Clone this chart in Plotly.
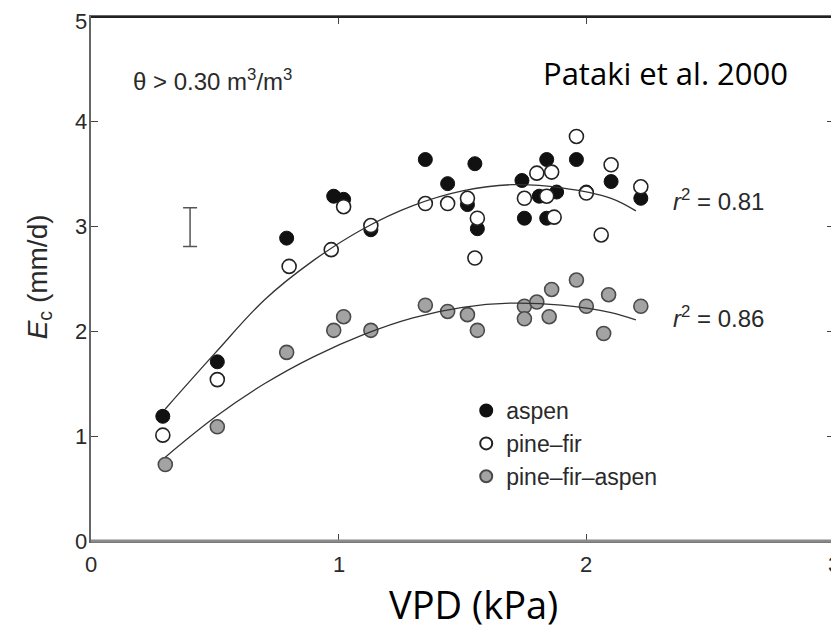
import plotly.graph_objects as go

# ---- data ----
aspen_x = [0.29, 0.51, 0.79, 0.98, 1.02, 1.13, 1.35, 1.44, 1.55, 1.52, 1.56, 1.74, 1.75,
           1.81, 1.84, 1.84, 1.88, 1.96, 2.00, 2.10, 2.22]
aspen_y = [1.19, 1.71, 2.89, 3.29, 3.26, 2.97, 3.64, 3.41, 3.60, 3.21, 2.98, 3.44, 3.08,
           3.29, 3.64, 3.08, 3.33, 3.64, 3.33, 3.43, 3.27]

pinefir_x = [0.29, 0.51, 0.80, 0.97, 1.02, 1.13, 1.35, 1.44, 1.52, 1.56, 1.55, 1.75, 1.80,
             1.86, 1.84, 1.87, 1.96, 2.00, 2.10, 2.06, 2.22]
pinefir_y = [1.01, 1.54, 2.62, 2.78, 3.19, 3.01, 3.22, 3.22, 3.27, 3.08, 2.70, 3.27, 3.51,
             3.52, 3.29, 3.09, 3.86, 3.32, 3.59, 2.92, 3.38]

pfa_x = [0.30, 0.51, 0.79, 0.98, 1.02, 1.13, 1.35, 1.44, 1.52, 1.56, 1.75, 1.75, 1.80,
         1.86, 1.85, 1.96, 2.00, 2.09, 2.07, 2.22]
pfa_y = [0.73, 1.09, 1.80, 2.01, 2.14, 2.01, 2.25, 2.19, 2.16, 2.01, 2.24, 2.12, 2.28,
         2.40, 2.14, 2.49, 2.24, 2.35, 1.98, 2.24]

fit_x = [0.3, 0.5, 0.7, 0.9, 1.1, 1.3, 1.5, 1.7, 1.9, 2.1, 2.2]
fit_upper_y = [1.26, 1.79, 2.30, 2.68, 2.98, 3.20, 3.34, 3.40, 3.37, 3.27, 3.15]
fit_lower_y = [0.80, 1.18, 1.50, 1.76, 1.97, 2.13, 2.23, 2.27, 2.25, 2.18, 2.11]

errbar_x = [0.40]
errbar_y = [2.995]
errbar_half = [0.185]

x_ticks = [0, 1, 2, 3]
y_ticks = [0, 1, 2, 3, 4, 5]

r2_labels = ["0.81", "0.86"]
r2_y = [3.25, 2.14]

TXT = "#2a2a2a"
SANS = "Arial"

fig = go.Figure()

fig.add_trace(go.Scatter(
    x=aspen_x, y=aspen_y, mode="markers", name="aspen",
    marker=dict(symbol="circle", size=14, color="#111111",
                line=dict(color="#111111", width=1)),
))
fig.add_trace(go.Scatter(
    x=pinefir_x, y=pinefir_y, mode="markers", name="pine\u2013fir",
    marker=dict(symbol="circle", size=14, color="white",
                line=dict(color="#222222", width=1.6)),
))
fig.add_trace(go.Scatter(
    x=pfa_x, y=pfa_y, mode="markers", name="pine\u2013fir\u2013aspen",
    marker=dict(symbol="circle", size=14, color="#a3a3a3",
                line=dict(color="#4a4a4a", width=1.6)),
))
fig.add_trace(go.Scatter(
    x=fit_x, y=fit_upper_y, mode="lines", line=dict(color="#333333", width=1.3, shape="spline"),
    showlegend=False, hoverinfo="skip",
))
fig.add_trace(go.Scatter(
    x=fit_x, y=fit_lower_y, mode="lines", line=dict(color="#333333", width=1.3, shape="spline"),
    showlegend=False, hoverinfo="skip",
))
fig.add_trace(go.Scatter(
    x=errbar_x, y=errbar_y, mode="markers", showlegend=False, hoverinfo="skip",
    marker=dict(size=1, color="rgba(0,0,0,0)"),
    error_y=dict(type="data", array=errbar_half, visible=True, color="#555555",
                 thickness=1.5, width=7),
))

TICKFONT = dict(family=SANS, size=22, color=TXT)
axis_common = dict(
    showgrid=False, zeroline=False, ticks="inside", ticklen=7, tickwidth=1.3,
    tickcolor="#444444", showline=True, linecolor="#666666", linewidth=1.8,
    mirror="ticks", showticklabels=False,
)

fig.update_layout(
    xaxis=dict(range=[0, 3], tickmode="array", tickvals=x_ticks, **axis_common),
    yaxis=dict(range=[0, 5], tickmode="array", tickvals=y_ticks, **axis_common),
)

# frame edges with differing weights like the scan
fig.add_shape(type="line", xref="paper", yref="paper", x0=1, x1=1, y0=0, y1=1,
              line=dict(color="#111111", width=3))
fig.add_shape(type="line", xref="paper", yref="paper", x0=0, x1=1, y0=1, y1=1,
              line=dict(color="#222222", width=2))
fig.add_shape(type="line", xref="paper", yref="paper", x0=0, x1=1, y0=0, y1=0,
              line=dict(color="#8a8a8a", width=3))

annotations = []
# tick labels (drawn as text so their size is explicit)
for v in x_ticks:
    annotations.append(dict(x=v, y=0, xref="x", yref="paper", xanchor="center",
                            yanchor="middle", yshift=-23, text=str(v), showarrow=False,
                            font=TICKFONT))
for v in y_ticks:
    annotations.append(dict(x=0, y=v, xref="paper", yref="y", xanchor="right",
                            yanchor="middle", xshift=-3,
                            yshift=-4 if v == y_ticks[-1] else 0,
                            text=str(v), showarrow=False, borderpad=0,
                            font=TICKFONT))

annotations += [
    dict(x=0.16, y=4.40, xref="x", yref="y", xanchor="left", yanchor="middle",
         text="\u03b8 > 0.30 m<sup>3</sup>/m<sup>3</sup>", showarrow=False,
         font=dict(family=SANS, size=24, color=TXT)),
    dict(x=2.32, y=4.47, xref="x", yref="y", xanchor="center", yanchor="middle",
         text="Pataki et al. 2000", showarrow=False,
         font=dict(family="Open Sans", size=31, color="black")),
    dict(x=0.515, y=-0.121, xref="paper", yref="paper", xanchor="center", yanchor="middle",
         text="VPD (kPa)", showarrow=False,
         font=dict(family="Open Sans", size=38, color="black")),
    dict(x=-0.07, y=0.505, xref="paper", yref="paper", xanchor="center", yanchor="middle",
         text="<i>E</i><sub>c</sub> (mm/d)", textangle=-90, showarrow=False,
         font=dict(family=SANS, size=28, color=TXT)),
]
for lab, yy in zip(r2_labels, r2_y):
    annotations.append(dict(
        x=2.34, y=yy, xref="x", yref="y", xanchor="left", yanchor="middle",
        text="<i>r</i><sup>2</sup> = " + lab, showarrow=False,
        font=dict(family=SANS, size=24, color=TXT)))

# the page body adds an 8px offset, so the figure is sized/placed to compensate
fig.update_layout(
    width=831, height=624,
    margin=dict(l=83, r=5, t=9, b=91, autoexpand=False),
    paper_bgcolor="white", plot_bgcolor="white",
    annotations=annotations,
    legend=dict(x=0.505, y=0.29, xanchor="left", yanchor="top",
                bgcolor="rgba(0,0,0,0)", borderwidth=0,
                font=dict(family=SANS, size=23, color=TXT),
                itemsizing="constant", tracegroupgap=0),
    showlegend=True,
)

fig.write_html("out.html")
